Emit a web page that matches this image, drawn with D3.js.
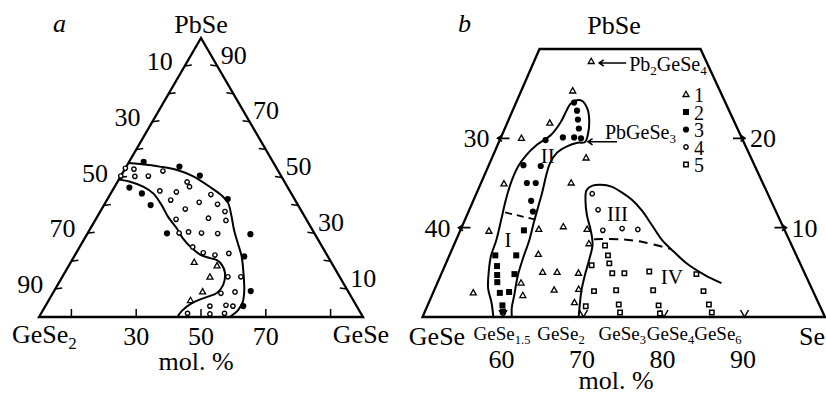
<!DOCTYPE html>
<html>
<head>
<meta charset="utf-8">
<script src="https://cdn.jsdelivr.net/npm/d3@7"></script>
<style>
  html, body { margin: 0; padding: 0; background: #fff; }
  svg { display: block; }
</style>
</head>
<body>
<svg id="chart" width="826" height="394"></svg>
<script>
// ---------- Panel a: GeSe2–GeSe–PbSe, mol. %  points are [GeSe, PbSe] ----------
const aFilledPts = [[4.5,55.6],[16.4,53.9],[24.3,50.7],[4.7,46.4],[9.6,44.3],[14.4,40.1],[37.1,42.3],
  [24.5,30.0],[50.4,29.7],[52.5,21.7],[60.7,9.3],[61.1,3.9]];
const aOpenPts = [[0,53.3],[2.8,53.0],[0,50.5],[4.4,50.4],[8.5,50.5],[12.1,52.3],[21.5,48.4],[23.1,46.7],
  [14.7,45.2],[20.0,44.8],[19.7,41.9],[31.1,43.9],[28.9,41.1],[34.9,40.4],[38.5,37.8],[25.8,38.7],
  [34.6,35.4],[40.4,34.6],[24.8,35.0],[28.2,30.1],[30.9,30.5],[35.1,30.1],[40.2,29.9],[34.9,25.1],
  [39.2,23.0],[43.2,22.2],[47.2,22.8],[51.1,14.4],[55.1,14.4],[51.9,8.5],[56.0,9.0],[50.8,3.9],
  [55.6,4.2],[57.9,3.9],[45.2,1.3],[52.2,1.1],[56.6,1.3]];
const aTriPts = [[38.1,19.6],[45.8,18.3],[45.6,14.3],[46.0,9.0],[43.8,5.9]];
const aOuterBound = [[0,55.2],[3.8,54.8],[10.3,53.9],[16.3,52.7],[22.2,50.5],[29.5,46.6],[34.7,43.5],
  [37.9,40.9],[41.3,36.2],[44.6,31.2],[48.1,26.5],[51.7,21.7],[55.2,15.8],[58.5,9.7],[60.2,5.4],
  [60.2,2.5],[58.8,0]];
const aInnerBound = [[0,49.3],[3.9,48.5],[8.8,46.7],[13.1,44.3],[17.8,40.1],[21.9,35.9],[26.6,31.8],
  [30.2,28.3],[34.8,24.7],[38.5,22.4],[42.2,21.1],[44.7,20.4],[47.2,18.6],[49.5,15.8],[51.1,11.5],
  [50.6,8.6],[48.3,7.2],[44.7,5.0],[43.0,2.2],[42.7,0]];
const aSideTicks = [10,20,30,40,50,60,70,80,90];      // PbSe levels on both sides
const aBaseTicks = [10,30,50,70,90];                   // GeSe levels on the base
const aLeftLabels = [10,30,50,70,90];                  // GeSe2 content
const aRightLabels = [90,70,50,30,10];                 // PbSe content
const aBaseLabels = [30,50,70];                        // GeSe content

// ---------- Panel b: GeSe–Se–PbSe region, at. %  points are [Se, Pb] ----------
const bType1 = [[57.1,28.6],[56.4,25.3],[55.3,21.7],[52.6,20.0],[61.7,17.8],[52.9,14.9],[61.2,15.0],
  [53.6,9.6],[59.7,9.8],[62.6,10.1],[65.7,9.8],[66.7,8.2],[61.0,7.0],[62.5,5.0],[64.3,5.0],[67.0,4.9],
  [60.4,3.8],[61.3,2.4],[64.9,3.0],[67.9,3.1],[68.1,1.6],[55.0,2.7]];
const bType2 = [[57.9,9.7],[55.7,6.9],[58.3,6.9],[56.5,5.7],[57.0,4.7],[59.1,4.8],[57.4,3.9],
  [58.3,2.7],[59.4,2.8],[59.3,1.3],[59.7,0.6]];
const bType3 = [[57.2,24.0],[58.0,23.1],[58.6,22.1],[59.2,21.1],[57.7,20.1],[59.1,20.1],[60,20],
  [55.7,19.8],[54.3,17.0],[56.5,16.9],[55.7,15.0],[56.8,15.0],[57.2,13.0],[58.0,11.8]];
const bType4 = [[64.4,13.8],[66.0,12.0],[67.7,9.7],[70.0,9.9],[72.0,9.8]];
const bType5 = [[68.8,8.0],[69.7,6.9],[70.3,6.0],[68.2,5.8],[71.2,4.9],[72.7,4.9],[75.7,5.1],[81.7,4.8],
  [69.9,2.9],[72.6,3.0],[77.2,3.0],[83.5,2.9],[73.7,1.4],[74.3,0.5],[78.7,1.3],[79.3,0.4],[84.9,1.4],
  [85.7,0.5],[69.7,1.2]];
const bBoundI_II = [[58.8,0],[57.8,1.6],[56.6,3.2],[55.8,5.0],[55.2,6.8],[55.0,8.6],[54.5,10.9],
  [54.0,13.1],[53.7,15.1],[53.7,16.8],[54.1,18.1],[54.9,19.3],[56.1,20.4],[56.6,21.8],[56.7,23.1],
  [56.8,23.8],[57.2,24.2],[58.1,24.2],[59.2,23.3],[60.0,22.1],[60.6,20.6],[60.7,19.6],[59.8,19.5],
  [58.7,19.1],[57.8,18.4],[57.5,17.2],[57.7,15.8],[58.1,14.0],[58.4,12.3],[58.7,10.6],[59.1,8.6],
  [59.3,6.6],[59.6,4.6],[60.2,2.5],[60.6,1.0],[61.1,0]];
const bBoundIII_IV = [[69.4,0],[68.9,1.3],[68.3,3.0],[67.9,4.7],[67.6,6.4],[67.2,8.1],[66.2,9.7],
  [64.9,11.4],[63.9,13.1],[63.5,14.2],[64.0,14.7],[65.0,14.8],[66.4,14.6],[68.1,13.9],[69.7,13.1],
  [71.5,11.9],[73.5,10.3],[75.6,8.6],[77.7,7.3],[80.1,5.9],[82.8,4.7],[85.3,3.8]];
const bSplitI_II = [[54.6,11.7],[58.8,10.9]];
const bSplitIII_IV = [[67.1,8.7],[70.3,8.7],[73.3,8.4],[77.2,7.6]];
const bZoneNames = ["I","II","III","IV"];
const bZoneAt = [[56.4,8.7],[56.8,18.1],[68.6,11.6],[78.8,4.5]];
const bBaseTicks = [60,70,80,90];                  // Se
const bGeTicks = [30,40];                          // Ge on the GeSe–PbSe side
const bPbTicks = [20,10];                          // Pb on the Se–PbSe side
const bCompoundSub = ["1.5","2","3","4","6"];      // GeSe_x on the Ge–Se side
const bCompoundSe = [60,66.7,75,80,85.7];
const bLegendKeys = ["1","2","3","4","5"];

// ---------- drawing ----------
const SERIF = "Liberation Serif";
const svg = d3.select("#chart");
svg.append("rect").attr("width", 826).attr("height", 394).attr("fill", "#fff");

const INK = "#000";
const FS = 26;

const aX = d3.scaleLinear().domain([0, 100]).range([39, 363]);
const aY = d3.scaleLinear().domain([0, 100]).range([317, 38]);
const projA = ([g, p]) => [aX(g + p / 2), aY(p)];

const bX = d3.scaleLinear().domain([50, 100]).range([422.5, 825]);
const bY = d3.scaleLinear().domain([0, 30]).range([317, 49]);
const bShear = d3.scaleLinear().domain([0, 30]).range([0, 117]);
const projB = ([s, q]) => [bX(s) + bShear(q), bY(q)];

const smooth = d3.line().curve(d3.curveCatmullRom.alpha(0.5));
const straight = d3.line();

function label(g, x, y, txt, opts = {}) {
  return g.append("text").attr("x", x).attr("y", y)
    .attr("font-family", SERIF)
    .attr("font-size", opts.size || FS)
    .attr("text-anchor", opts.anchor || "middle")
    .attr("font-style", opts.italic ? "italic" : null)
    .attr("fill", INK).text(txt);
}
function formula(g, x, y, parts, size, subSize, anchor) {
  const t = g.append("text").attr("x", x).attr("y", y).attr("font-size", size)
    .attr("font-family", SERIF)
    .attr("text-anchor", anchor).attr("fill", INK);
  let low = false;
  const shift = Math.round(size * 0.22);
  parts.forEach(([s, sub]) => {
    const ts = t.append("tspan").attr("font-size", sub ? subSize : size).text(s);
    if (sub && !low) { ts.attr("dy", shift); low = true; }
    else if (!sub && low) { ts.attr("dy", -shift); low = false; }
  });
  return t;
}
function arrow(g, x1, y1, x2, y2, head = 5.5) {
  const a = Math.atan2(y2 - y1, x2 - x1);
  const p = d3.path();
  p.moveTo(x1, y1); p.lineTo(x2, y2);
  p.moveTo(x2 - head * Math.cos(a - 0.6), y2 - head * Math.sin(a - 0.6));
  p.lineTo(x2, y2);
  p.lineTo(x2 - head * Math.cos(a + 0.6), y2 - head * Math.sin(a + 0.6));
  g.append("path").attr("d", p.toString()).attr("fill", "none")
    .attr("stroke", INK).attr("stroke-width", 1.6);
}

const triPath = "M0,-3.3L3,2L-3,2Z";
function markers(g, pts, proj, kind) {
  const sel = g.append("g").selectAll("path").data(pts).join("path")
    .attr("transform", d => { const [x, y] = proj(d); return `translate(${x},${y})`; });
  if (kind === "tri") sel.attr("d", triPath).attr("fill", "#fff").attr("stroke", INK).attr("stroke-width", 1.3);
  if (kind === "dot") sel.attr("d", d3.symbol(d3.symbolCircle, 30)()).attr("fill", INK);
  if (kind === "ring") sel.attr("d", d3.symbol(d3.symbolCircle, 15)()).attr("fill", "#fff").attr("stroke", INK).attr("stroke-width", 1.4);
  if (kind === "block") sel.attr("d", "M-3,-3H3V3H-3Z").attr("fill", INK);
  if (kind === "box") sel.attr("d", "M-2.2,-2.2H2.2V2.2H-2.2Z").attr("fill", "#fff").attr("stroke", INK).attr("stroke-width", 1.5);
  return sel;
}

// ================= panel a =================
const ga = svg.append("g");
ga.append("path")
  .attr("d", straight([[0, 0], [100, 0], [0, 100]].map(projA)) + "Z")
  .attr("fill", "none").attr("stroke", INK).attr("stroke-width", 2.3).attr("stroke-linejoin", "miter");

aSideTicks.forEach(p => {
  const [lx, ly] = projA([0, p]);
  ga.append("line").attr("x1", lx).attr("y1", ly).attr("x2", lx + 7).attr("y2", ly - 1)
    .attr("stroke", INK).attr("stroke-width", 1.5);
  const [rx, ry] = projA([100 - p, p]);
  ga.append("line").attr("x1", rx).attr("y1", ry).attr("x2", rx - 7).attr("y2", ry - 1)
    .attr("stroke", INK).attr("stroke-width", 1.5);
});
aBaseTicks.forEach(g => {
  const [x, y] = projA([g, 0]);
  ga.append("line").attr("x1", x).attr("y1", y).attr("x2", x).attr("y2", y - 8)
    .attr("stroke", INK).attr("stroke-width", 1.5);
});
aLeftLabels.forEach(v => {
  const [x, y] = projA([0, 100 - v]);
  label(ga, x - 25, y - 5, v).attr("dy", "0.35em");
});
aRightLabels.forEach(v => {
  const [x, y] = projA([100 - v, v]);
  label(ga, x + 16.5, y - 11.5, v).attr("dy", "0.35em");
});
aBaseLabels.forEach(v => {
  const [x] = projA([v, 0]);
  label(ga, x, 345, v);
});

ga.append("path").attr("d", smooth(aOuterBound.map(projA))).attr("fill", "none").attr("stroke", INK).attr("stroke-width", 2);
ga.append("path").attr("d", smooth(aInnerBound.map(projA))).attr("fill", "none").attr("stroke", INK).attr("stroke-width", 2);

markers(ga, aOpenPts, projA, "ring");
markers(ga, aFilledPts, projA, "dot");
markers(ga, aTriPts, projA, "tri");

label(ga, 53, 32, "a", { anchor: "start", italic: true });
label(ga, 201, 33, "PbSe");
formula(ga, 12, 343, [["GeSe", false], ["2", true]], FS, 17, "start");
label(ga, 361, 343, "GeSe");
label(ga, 196, 370, "mol. %");

// ================= panel b =================
const gb = svg.append("g");
gb.append("path")
  .attr("d", straight([[50, 0], [100, 0], [70, 30], [50, 30]].map(projB)) + "Z")
  .attr("fill", "none").attr("stroke", INK).attr("stroke-width", 2.3).attr("stroke-linejoin", "miter");

bBaseTicks.forEach(s => {
  const [x, y] = projB([s, 0]);
  gb.append("path").attr("d", `M${x - 4},${y - 7}L${x},${y}L${x + 4},${y - 7}`)
    .attr("fill", "none").attr("stroke", INK).attr("stroke-width", 1.5);
  label(gb, x - 1.5, 368, s);
});
bGeTicks.forEach(ge => {
  const [x, y] = projB([50, 50 - ge]);
  arrow(gb, x + 9, y, x - 3, y);
  label(gb, x - 11, y + 9, ge, { anchor: "end" });
});
bPbTicks.forEach(pb => {
  const [x, y] = projB([100 - pb, pb]);
  arrow(gb, x - 9, y, x + 3, y);
  label(gb, x + 8, y + 9, pb, { anchor: "start" });
});

gb.append("path").attr("d", smooth(bBoundI_II.map(projB))).attr("fill", "none").attr("stroke", INK).attr("stroke-width", 2);
gb.append("path").attr("d", smooth(bBoundIII_IV.map(projB))).attr("fill", "none").attr("stroke", INK).attr("stroke-width", 2);
gb.append("path").attr("d", smooth(bSplitI_II.map(projB))).attr("fill", "none").attr("stroke", INK)
  .attr("stroke-width", 1.8).attr("stroke-dasharray", "7,5");
gb.append("path").attr("d", smooth(bSplitIII_IV.map(projB))).attr("fill", "none").attr("stroke", INK)
  .attr("stroke-width", 2).attr("stroke-dasharray", "9,6");

markers(gb, bType1, projB, "tri");
markers(gb, bType2, projB, "block");
markers(gb, bType3, projB, "dot");
markers(gb, bType4, projB, "ring");
markers(gb, bType5, projB, "box");

bZoneNames.forEach((n, i) => {
  const [x, y] = projB(bZoneAt[i]);
  label(gb, x, y, n, { size: 21 }).attr("dy", "0.35em");
});

// compound call-outs
{
  const [x, y] = projB(bType1[0]);
  arrow(gb, x + 35, y + 1.5, x + 8, y + 1.5);
  formula(gb, x + 38, y + 9, [["Pb", false], ["2", true], ["GeSe", false], ["4", true]], 20, 13, "start");
}
{
  const [x, y] = projB(bType3[6]);
  arrow(gb, x + 36, y + 3.4, x + 7, y + 3.4);
  formula(gb, x + 24, y + 0.5, [["PbGeSe", false], ["3", true]], 20, 13, "start");
}

// legend
const legendKinds = ["tri", "block", "dot", "ring", "box"];
bLegendKeys.forEach((k, i) => {
  const base = 102 + i * 17.5;
  markers(gb, [[0, 0]], () => [686, base - 7.5], legendKinds[i]);
  label(gb, 694, base, k, { size: 20, anchor: "start" });
});

// compound names on the Ge–Se side
const compoundNudge = [-1, 4, -1.5, 6.5, 8];
bCompoundSub.forEach((sub, i) => {
  const [x] = projB([bCompoundSe[i], 0]);
  formula(gb, x + compoundNudge[i], 340, [["GeSe", false], [sub, true]], 19, 12.5, "middle");
});

label(gb, 458, 32, "b", { anchor: "start", italic: true });
label(gb, 614, 34, "PbSe");
label(gb, 437, 345, "GeSe");
label(gb, 812, 345, "Se");
label(gb, 616, 389, "mol. %");
</script>
</body>
</html>
